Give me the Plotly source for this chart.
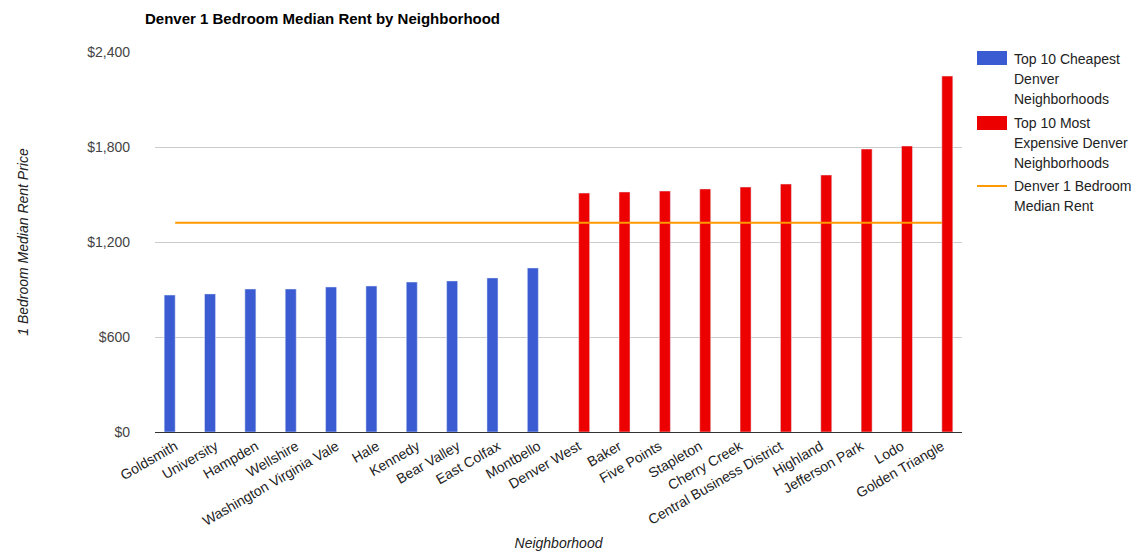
import plotly.graph_objects as go

neighborhoods = ["Goldsmith", "University", "Hampden", "Wellshire", "Washington Virginia Vale",
                 "Hale", "Kennedy", "Bear Valley", "East Colfax", "Montbello",
                 "Denver West", "Baker", "Five Points", "Stapleton", "Cherry Creek",
                 "Central Business District", "Highland", "Jefferson Park", "Lodo", "Golden Triangle"]
cheapest = [865, 872, 903, 903, 916, 922, 947, 954, 973, 1036]
expensive = [1509, 1516, 1522, 1535, 1547, 1566, 1623, 1787, 1806, 2248]
median_rent = 1322
y_ticks = [0, 600, 1200, 1800, 2400]
y_tick_labels = ["$0", "$600", "$1,200", "$1,800", "$2,400"]

BLUE = "#3A5BD1"
RED = "#EC0000"
ORANGE = "#FF9900"
FONT = "Liberation Sans, Arial, sans-serif"

blue_y = cheapest + [None] * len(expensive)
red_y = [None] * len(cheapest) + expensive

fig = go.Figure()
fig.add_trace(go.Bar(x=neighborhoods, y=blue_y, marker_color=BLUE,
                     name="Top 10 Cheapest Denver Neighborhoods"))
fig.add_trace(go.Bar(x=neighborhoods, y=red_y, marker_color=RED,
                     name="Top 10 Most Expensive Denver Neighborhoods"))
fig.add_trace(go.Scatter(x=neighborhoods, y=[median_rent] * len(neighborhoods), mode="lines",
                         line=dict(color=ORANGE, width=2),
                         name="Denver 1 Bedroom Median Rent"))

W, H = 1146, 551
L, R, T, B = 155, 184, 52, 119
pw, ph = W - L - R, H - T - B

def px(x):
    return (x - L) / pw

def py(y):
    return (H - B - y) / ph

legend_items = [
    ("box", BLUE, 51, 65, ["Top 10 Cheapest", "Denver", "Neighborhoods"], 59),
    ("box", RED, 116, 130, ["Top 10 Most", "Expensive Denver", "Neighborhoods"], 123),
    ("line", ORANGE, 186, 186, ["Denver 1 Bedroom", "Median Rent"], 186),
]
shapes = []
annotations = []
for kind, color, y0, y1, lines, ty in legend_items:
    if kind == "box":
        shapes.append(dict(type="rect", xref="paper", yref="paper",
                           x0=px(977), x1=px(1007), y0=py(y1), y1=py(y0),
                           fillcolor=color, line=dict(width=0)))
    else:
        shapes.append(dict(type="line", xref="paper", yref="paper",
                           x0=px(977), x1=px(1007), y0=py(y0), y1=py(y0),
                           line=dict(color=color, width=2)))
    for i, t in enumerate(lines):
        annotations.append(dict(xref="paper", yref="paper", x=px(1012), y=py(ty + 20 * i),
                                xanchor="left", yanchor="middle", text=t, showarrow=False,
                                font=dict(family=FONT, size=14, color="#222222")))

fig.update_layout(
    width=W, height=H,
    margin=dict(l=L, r=R, t=T, b=B, autoexpand=False),
    paper_bgcolor="white", plot_bgcolor="white",
    barmode="group", bargap=0.455, bargroupgap=0,
    showlegend=False,
    font=dict(family=FONT, size=14, color="#444444"),
    title=dict(text="<b>Denver 1 Bedroom Median Rent by Neighborhood</b>",
               x=145 / W, xanchor="left", y=1 - 19 / H, yanchor="middle",
               font=dict(family=FONT, size=15, color="#000000")),
    shapes=shapes,
    annotations=annotations,
    xaxis=dict(tickangle=-30, showgrid=False, showline=True, linecolor="#333333",
               linewidth=1, ticks="", tickfont=dict(size=14, color="#222222"),
               title=dict(text="<i>Neighborhood</i>", standoff=11,
                          font=dict(size=14, color="#222222")),
               automargin=False),
    yaxis=dict(range=[0, 2400], tickvals=y_ticks, ticktext=y_tick_labels,
               showgrid=True, gridcolor="#CCCCCC", gridwidth=1,
               zeroline=True, zerolinecolor="#333333", zerolinewidth=1,
               ticks="", ticklabelstandoff=24, tickfont=dict(size=14, color="#444444"),
               title=dict(text="<i>1 Bedroom Median Rent Price</i>", standoff=55,
                          font=dict(size=14, color="#222222")),
               automargin=False),
)

fig.write_html("out.html")
